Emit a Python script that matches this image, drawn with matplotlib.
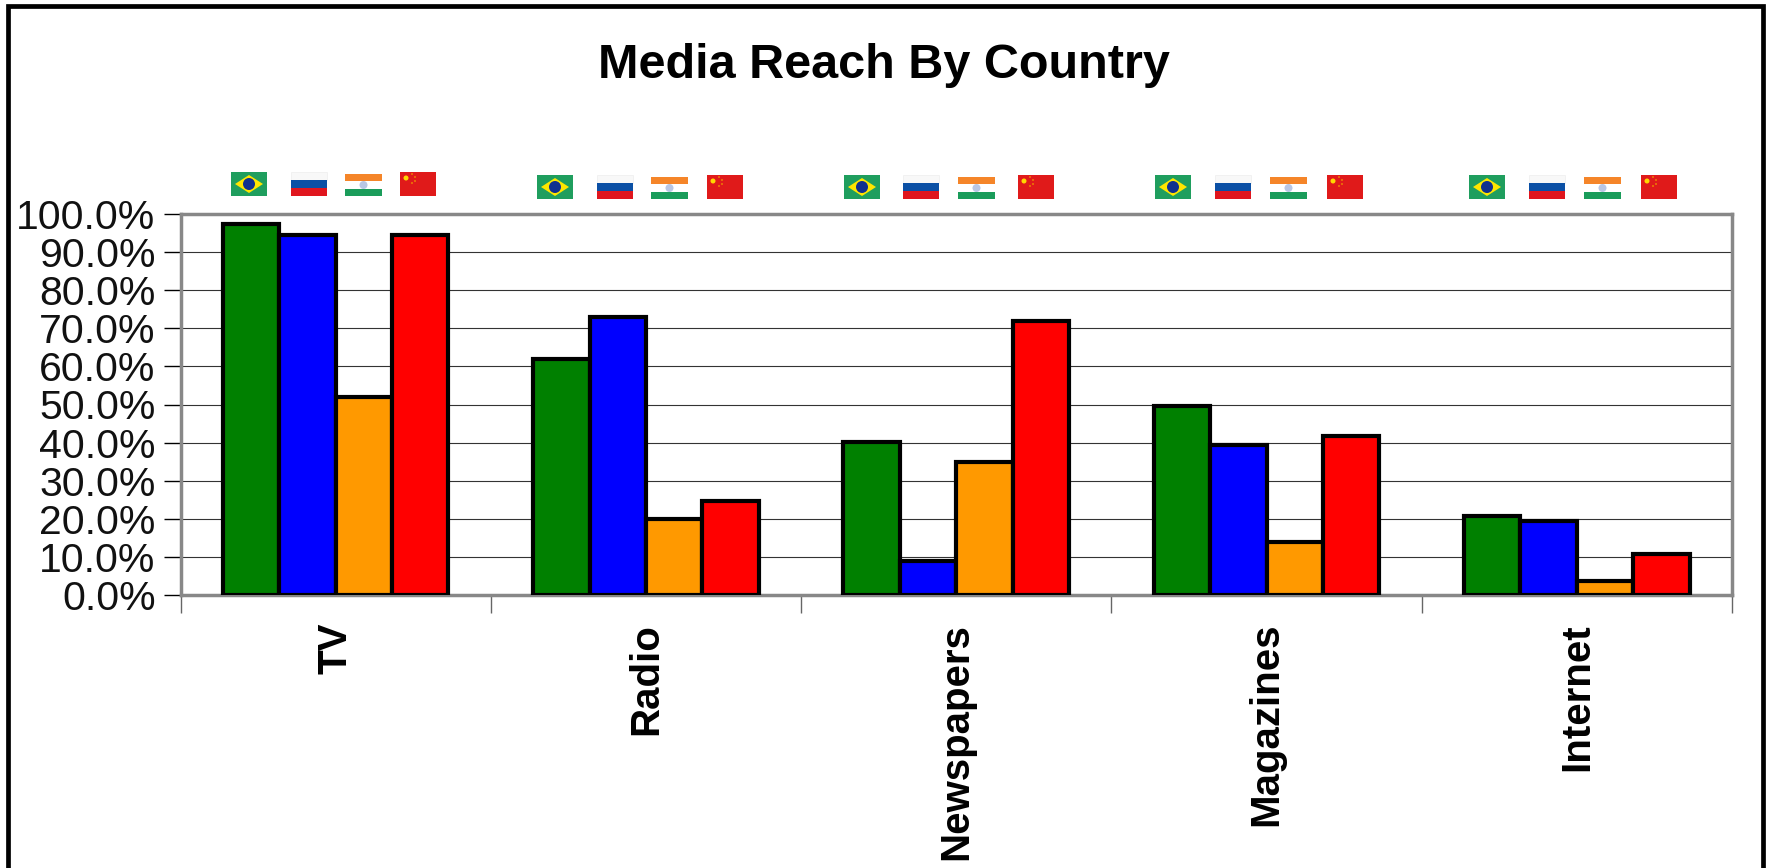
import numpy as np
import matplotlib
matplotlib.use('Agg')
import matplotlib.pyplot as plt
from matplotlib.patches import Rectangle, Polygon, Circle

plt.rcParams['font.family'] = ['Liberation Sans', 'DejaVu Sans']

W = 1767
H = 868

categories = ["TV", "Radio", "Newspapers", "Magazines", "Internet"]
brazil = [97.5, 62.0, 40.2, 49.5, 20.8]
russia = [94.5, 73.0, 8.8, 39.5, 19.5]
india = [52.0, 20.0, 34.8, 14.0, 3.7]
china = [94.5, 24.8, 72.0, 41.7, 10.8]
colors = ["#008000", "#0000ff", "#ff9900", "#ff0000"]
yticks = [0, 10, 20, 30, 40, 50, 60, 70, 80, 90, 100]

# left edge of each flag in pixels, one row per category
flag_x = [[231, 291, 345, 400],
          [537, 597, 651, 707],
          [844, 903, 958, 1018],
          [1155, 1215, 1270, 1327],
          [1469, 1529, 1584, 1641]]
flag_y = [172, 175, 175, 175, 175]


def draw_brazil(ov, x, y):
    ov.add_patch(Rectangle((x, y), 36, 24, fc="#1f9e5e", ec="none"))
    ov.add_patch(Polygon([(x + 4, y + 12), (x + 18, y + 3), (x + 32, y + 12), (x + 18, y + 21)], fc="#ffe600", ec="none"))
    ov.add_patch(Circle((x + 18, y + 12), 6, fc="#10308f", ec="none"))


def draw_russia(ov, x, y):
    ov.add_patch(Rectangle((x, y), 36, 8, fc="#f8f8f8", ec="#eeeeee", lw=0.5))
    ov.add_patch(Rectangle((x, y + 8), 36, 8, fc="#0b50a5", ec="none"))
    ov.add_patch(Rectangle((x, y + 16), 36, 8, fc="#e0161e", ec="none"))


def draw_india(ov, x, y):
    ov.add_patch(Rectangle((x, y + 2), 37, 7, fc="#f58529", ec="none"))
    ov.add_patch(Rectangle((x, y + 17), 37, 7, fc="#1a9c5a", ec="none"))
    ov.add_patch(Circle((x + 18.5, y + 13), 4, fc="#b9c6e4", ec="none"))


def draw_china(ov, x, y):
    ov.add_patch(Rectangle((x, y), 36, 24, fc="#e01a1a", ec="none"))
    ov.add_patch(Circle((x + 6, y + 6), 2.5, fc="#ffd800", ec="none"))
    for dx, dy in [(12, 2), (15, 5), (15, 9), (12, 11)]:
        ov.add_patch(Circle((x + dx, y + dy), 0.9, fc="#f09000", ec="none"))


flag_funcs = [draw_brazil, draw_russia, draw_india, draw_china]

fig = plt.figure(figsize=(W / 100, H / 100), dpi=100)

# overlay in pixel coordinates for frame and flags
ov = fig.add_axes([0, 0, 1, 1])
ov.set_xlim(0, W)
ov.set_ylim(H, 0)
ov.axis("off")
ov.plot([8, 8, 1763, 1763], [H + 5, 6, 6, H + 5], color="black", lw=3.4, solid_joinstyle="miter")
for row, y in zip(flag_x, flag_y):
    for func, x in zip(flag_funcs, row):
        func(ov, x, y)

left, right, top, bottom = 180.5, 1732, 214, 595
ax = fig.add_axes([left / W, 1 - bottom / H, (right - left) / W, (bottom - top) / H])

x = np.arange(len(categories))
bar_w = 1 / 5.5
for i, vals in enumerate([brazil, russia, india, china]):
    ax.bar(x + (i - 1.5) * bar_w, vals, bar_w, color=colors[i], edgecolor="black", linewidth=3, zorder=3)

ax.set_xlim(-0.5, len(categories) - 0.5)
ax.set_ylim(0, 100)
ax.set_yticks(yticks)
ax.set_yticklabels([f"{v:.1f}%" for v in yticks], fontsize=29.5, color="#111111")
ax.set_xticks(np.arange(len(categories) + 1) - 0.5)
ax.set_xticklabels([])
ax.tick_params(axis="y", length=12, width=1, color="black", pad=6)
ax.tick_params(axis="x", length=13, width=1, color="#666666")
ax.grid(axis="y", color="#333333", lw=0.8, zorder=0)
ax.set_axisbelow(True)
for s in ax.spines.values():
    s.set_color("#888888")
    s.set_linewidth(2.5)

for i, name in enumerate(categories):
    ax.annotate(name, (i, 0), xytext=(0, -28), xycoords=("data", "axes fraction"), textcoords="offset pixels",
                rotation=90, ha="center", va="top", fontsize=29, fontweight="bold", annotation_clip=False)

fig.text(0.5 * (W + 0) / W, 1 - 65 / H, "Media Reach By Country", ha="center", va="center", fontsize=35, fontweight="bold")

fig.savefig("out.png", dpi=100, facecolor="white")
